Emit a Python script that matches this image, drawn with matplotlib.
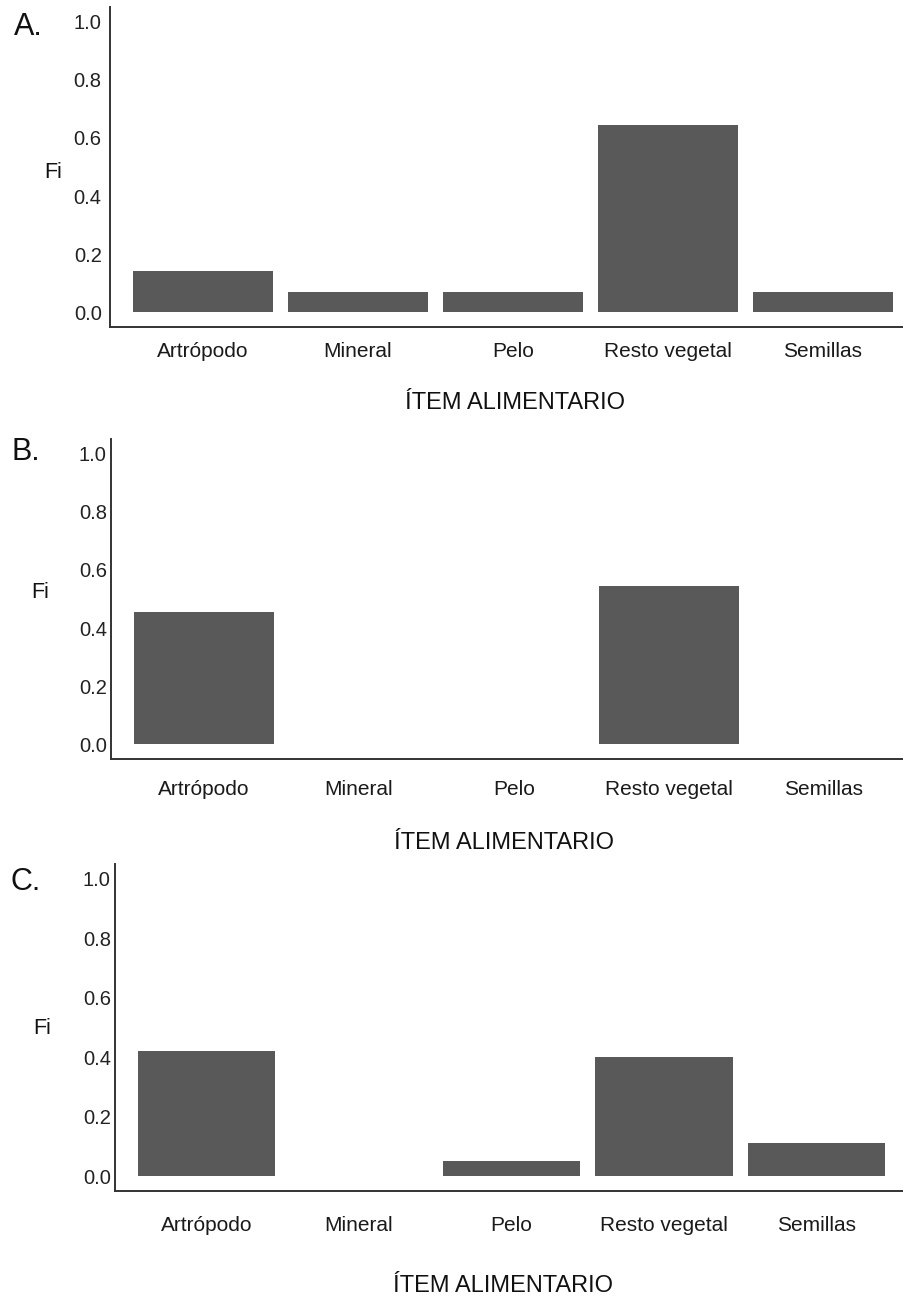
import matplotlib
matplotlib.use("Agg")
import matplotlib.pyplot as plt

plt.rcParams['font.family'] = ['Liberation Sans', 'DejaVu Sans']

categories = ["Artrópodo", "Mineral", "Pelo", "Resto vegetal", "Semillas"]
values_a = [0.143, 0.071, 0.071, 0.643, 0.071]
values_b = [0.455, 0.0, 0.0, 0.545, 0.0]
values_c = [0.42, 0.0, 0.05, 0.40, 0.11]
y_ticks = [0.0, 0.2, 0.4, 0.6, 0.8, 1.0]
y_tick_labels = ["0.0", "0.2", "0.4", "0.6", "0.8", "1.0"]
panel_letters = ["A.", "B.", "C."]
x_title = "ÍTEM ALIMENTARIO"
y_title = "Fi"

W, H = 904, 1299
fig = plt.figure(figsize=(W / 100, H / 100), dpi=100)

bar_color = "#595959"
axis_color = "#333333"

panels = [
    dict(vals=values_a, left=110, bottom=327, height=320, step=155, xpad=11, ypad=6,
         letter=(28, 27), fi=(53, 173), title=(515, 403)),
    dict(vals=values_b, left=111, bottom=759, height=320, step=155, xpad=15, ypad=3,
         letter=(26, 452), fi=(40, 593), title=(504, 843)),
    dict(vals=values_c, left=115, bottom=1191, height=327, step=152.5, xpad=18, ypad=3,
         letter=(26, 882), fi=(42, 1028), title=(503, 1286)),
]

for i, p in enumerate(panels):
    width_px = 5.2 * p["step"]
    ax = fig.add_axes([p["left"] / W, (H - p["bottom"]) / H, width_px / W, p["height"] / H])
    x = list(range(len(categories)))
    ax.bar(x, p["vals"], width=0.9, color=bar_color, linewidth=0)
    ax.set_xlim(-0.6, 4.6)
    ax.set_ylim(-0.05, 1.05)
    ax.set_xticks(x)
    ax.set_xticklabels(categories, fontsize=15, color="#1a1a1a")
    ax.set_yticks(y_ticks)
    ax.set_yticklabels(y_tick_labels, fontsize=14.5, color="#222222")
    ax.tick_params(axis="x", length=0, pad=p["xpad"])
    ax.tick_params(axis="y", length=0, pad=p["ypad"])
    for s in ["top", "right"]:
        ax.spines[s].set_visible(False)
    for s in ["left", "bottom"]:
        ax.spines[s].set_color(axis_color)
        ax.spines[s].set_linewidth(1.4)
    ax.set_facecolor("white")

    fig.text(p["letter"][0] / W, 1 - p["letter"][1] / H, panel_letters[i],
             fontsize=22, ha="center", va="center", color="#111111")
    fig.text(p["fi"][0] / W, 1 - p["fi"][1] / H, y_title,
             fontsize=15.5, ha="center", va="center", color="#111111")
    fig.text(p["title"][0] / W, 1 - p["title"][1] / H, x_title,
             fontsize=17, ha="center", va="center", color="#111111")

fig.savefig("out.png", dpi=100, facecolor="white")
